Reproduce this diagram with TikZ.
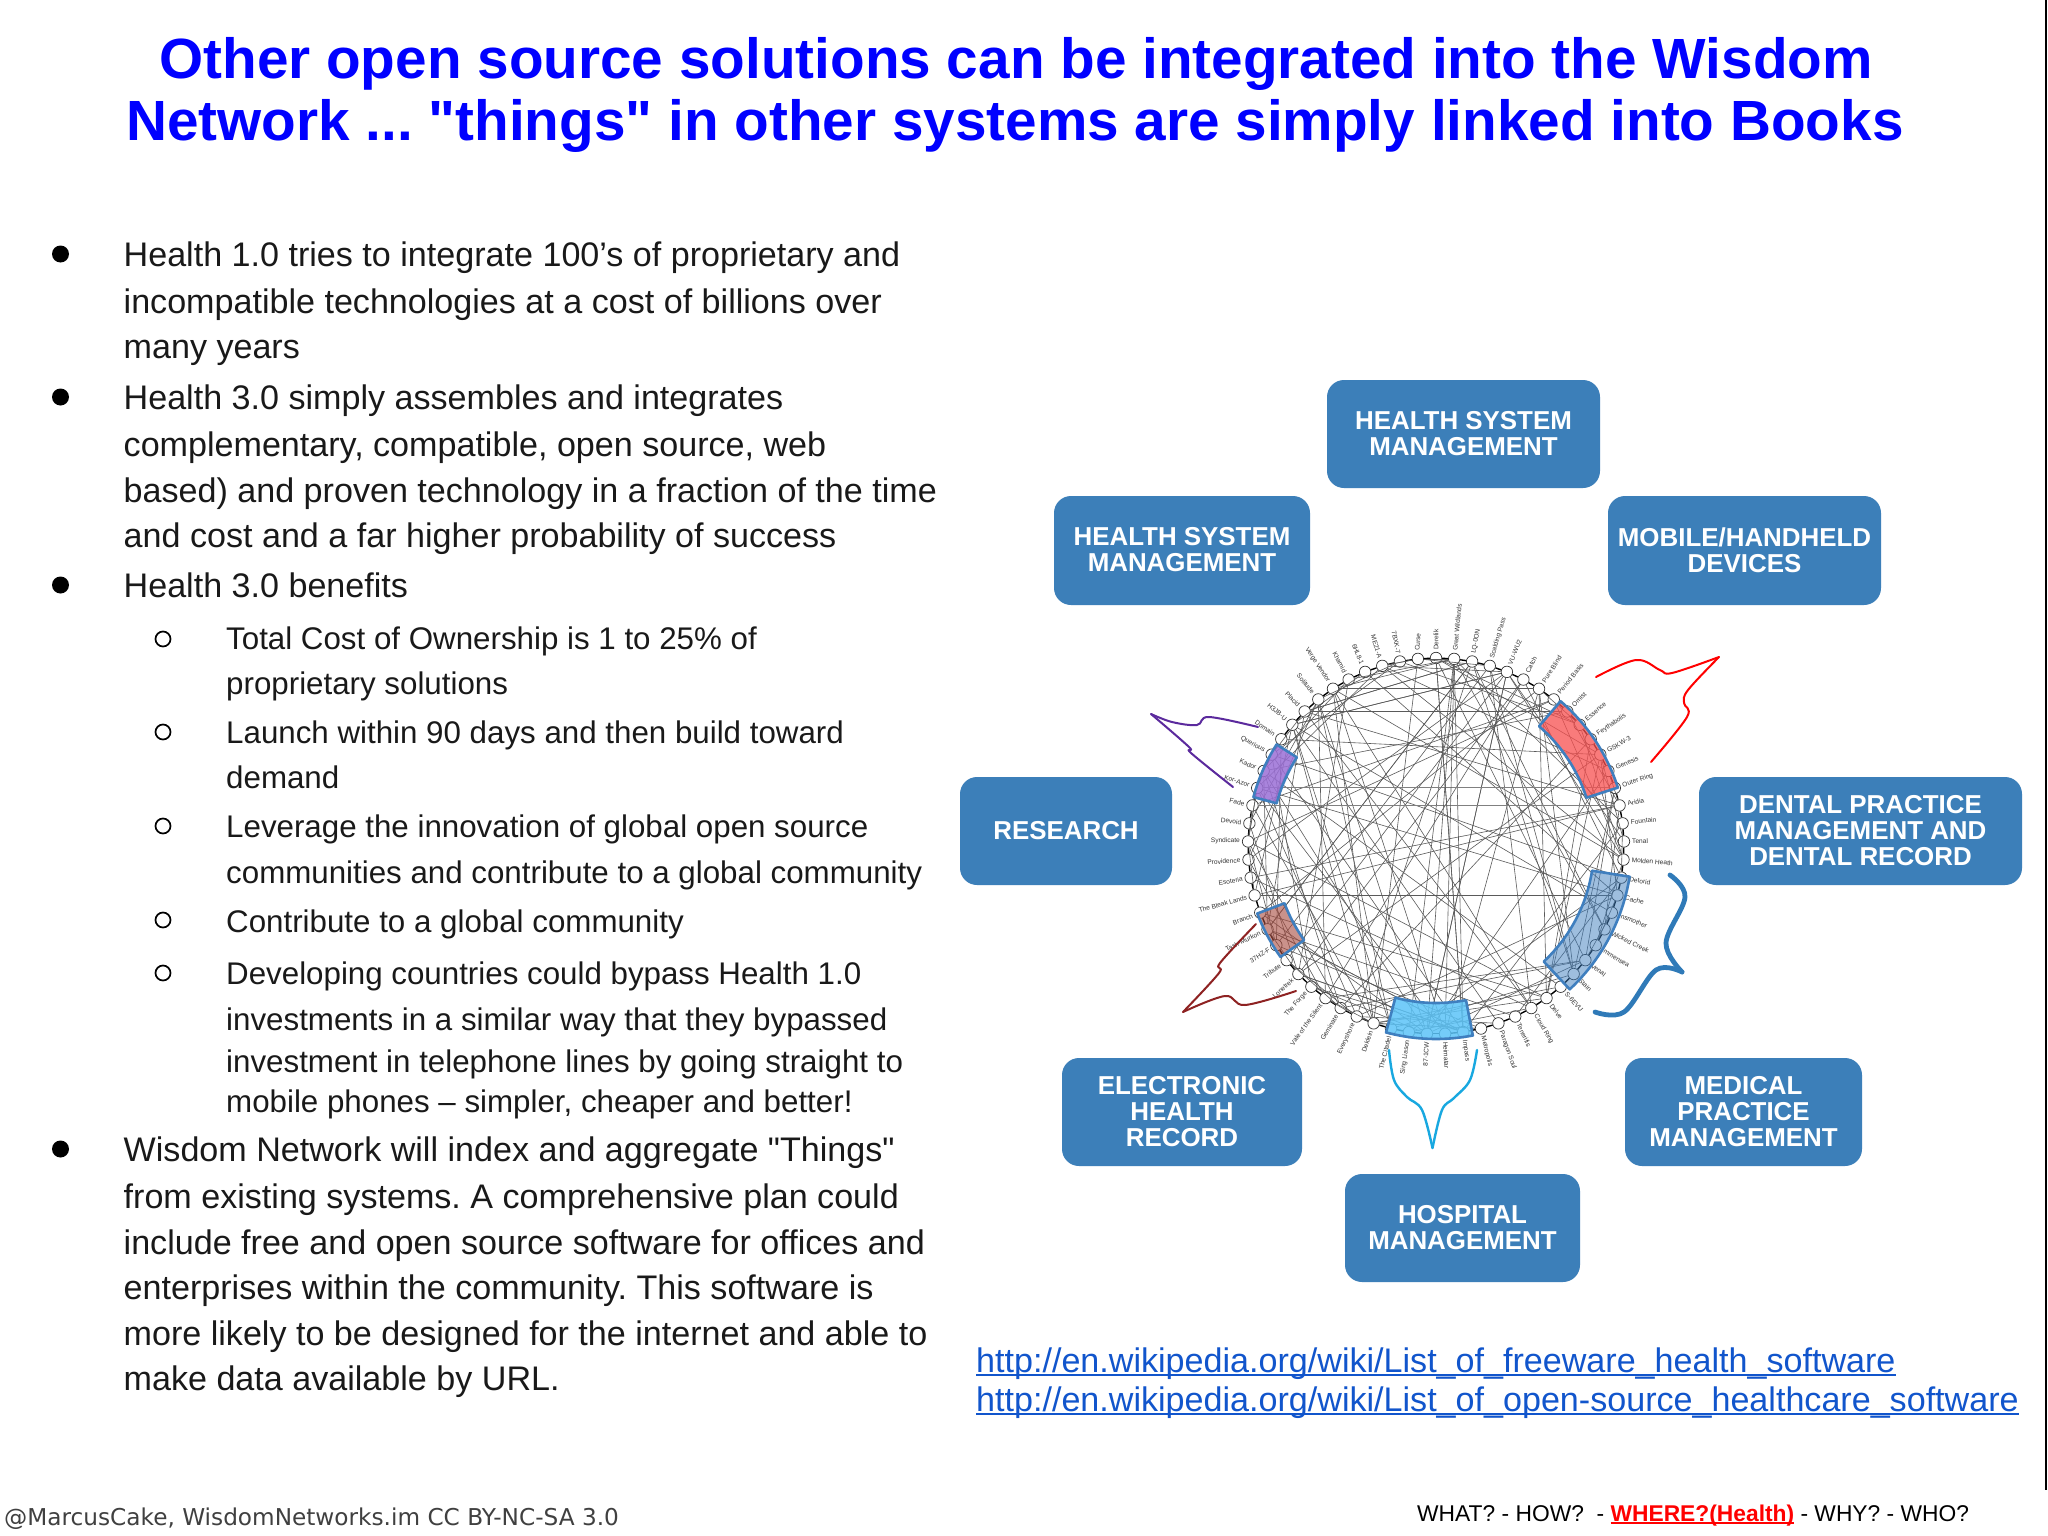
\documentclass[tikz,border=0pt]{standalone}
\usepackage{fontspec}
\setmainfont{Liberation Sans}[Ligatures=TeXOff]
\newfontfamily\djv{DejaVu Sans}
\frenchspacing
\newsavebox{\ulbox}
\newcommand{\ulx}[3]{\sbox{\ulbox}{#3}\rlap{\rule[#1]{\wd\ulbox}{#2}}\usebox{\ulbox}}
\definecolor{boxblue}{HTML}{3C7FB9}
\definecolor{secborder}{HTML}{3F7FBF}
\definecolor{linkblue}{HTML}{1155CC}
\definecolor{titleblue}{HTML}{0000FF}
\definecolor{edgegray}{HTML}{5A5A5A}
\definecolor{secpurple}{HTML}{9B6FD6}
\definecolor{secred}{HTML}{F85050}
\definecolor{secbrown}{HTML}{A84A3E}
\definecolor{seccyan}{HTML}{5CC4F8}
\definecolor{curvepurple}{HTML}{5B2A9D}
\definecolor{curvebrown}{HTML}{8E2222}
\definecolor{curvecyan}{HTML}{18A8E0}
\definecolor{curveblue}{HTML}{2F7AB8}
\tikzset{
  x=1pt,y=-1pt,
  titletxt/.style={inner sep=0pt,anchor=base,font=\fontsize{56.7}{60}\selectfont\bfseries,text=titleblue},
  bodytxt/.style={inner sep=0pt,anchor=base west,font=\fontsize{34.1}{38}\selectfont,text=black!90},
  subtxt/.style={inner sep=0pt,anchor=base west,font=\fontsize{31.3}{36}\selectfont,text=black!90},
  linktxt/.style={inner sep=0pt,anchor=base west,font=\fontsize{34.1}{40}\selectfont,text=linkblue},
  bullet/.style={circle,fill=black,inner sep=0pt,minimum size=17pt},
  subbullet/.style={circle,draw=black,line width=1.7pt,fill=white,inner sep=0pt,minimum size=15pt},
  boxlabel/.style={inner sep=0pt,align=center,text=white,font=\fontsize{25.9}{26}\selectfont\bfseries},
  hbox/.style={rounded corners=17pt,fill=boxblue},
  rnode/.style={circle,draw=black!80,fill=white,line width=0.7pt,inner sep=0pt,minimum size=11.5pt},
  rlabel/.style={inner sep=0pt,text=black!80,font=\fontsize{6.6}{8}\selectfont},
  chord/.style={draw=edgegray,line width=0.6pt},
  sector/.style={draw=secborder,line width=2.6pt,line join=round},
  hand/.style={line cap=round,line join=round,fill=none},
}
\newcommand{\hb}[6]{\path[hbox] (#2,#3) rectangle (#4,#5); \node[boxlabel] (#1) at ({(#2+#4)/2},{(#3+#5)/2-0.7}) {#6};}
\newcommand{\sect}[6]{\path[sector,fill=#1,fill opacity=#2,draw opacity=1] plot[domain=#5:#6,samples=24] ({1436+#4*cos(\x)},{846-#4*sin(\x)}) -- plot[domain=#6:#5,samples=24] ({1436+#3*cos(\x)},{846-#3*sin(\x)}) -- cycle;}
\begin{document}
\begin{tikzpicture}
\useasboundingbox (0,0) rectangle (2048,1536);
\fill[white] (0,0) rectangle (2048,1536);
\draw[black,line width=2.4pt] (2046,0) -- (2046,1490);
% title
\node[titletxt] (title1) at (1016,78.5) {Other open source solutions can be integrated into the Wisdom};
\node[titletxt] (title2) at (1015,140.5) {Network ... "things" in other systems are simply linked into Books};
% bullets
\node[bullet] (b1) at (60.5,254) {};
\node[bullet] (b2) at (60.5,397) {};
\node[bullet] (b3) at (60.5,585) {};
\node[bullet] (b4) at (60.5,1149) {};
\node[bodytxt] (l1) at (123.5,266) {Health 1.0 tries to integrate 100’s of proprietary and};
\node[bodytxt] (l2) at (123.5,313) {incompatible technologies at a cost of billions over};
\node[bodytxt] (l3) at (123.5,358) {many years};
\node[bodytxt] (l4) at (123.5,409) {Health 3.0 simply assembles and integrates};
\node[bodytxt] (l5) at (123.5,456) {complementary, compatible, open source, web};
\node[bodytxt] (l6) at (123.5,502) {based) and proven technology in a fraction of the time};
\node[bodytxt] (l7) at (123.5,547) {and cost and a far higher probability of success};
\node[bodytxt] (l8) at (123.5,597) {Health 3.0 benefits};
\node[subbullet] (s1) at (163,639) {};
\node[subbullet] (s2) at (163,732) {};
\node[subbullet] (s3) at (163,826) {};
\node[subbullet] (s4) at (163,920) {};
\node[subbullet] (s5) at (163,973) {};
\node[subtxt] (m1) at (226,649) {Total Cost of Ownership is 1 to 25\% of};
\node[subtxt] (m2) at (226,694) {proprietary solutions};
\node[subtxt] (m3) at (226,743) {Launch within 90 days and then build toward};
\node[subtxt] (m4) at (226,788) {demand};
\node[subtxt] (m5) at (226,837) {Leverage the innovation of global open source};
\node[subtxt] (m6) at (226,883) {communities and contribute to a global community};
\node[subtxt] (m7) at (226,932) {Contribute to a global community};
\node[subtxt] (m8) at (226,984) {Developing countries could bypass Health 1.0};
\node[subtxt] (m9) at (226,1030) {investments in a similar way that they bypassed};
\node[subtxt] (m10) at (226,1072) {investment in telephone lines by going straight to};
\node[subtxt] (m11) at (226,1112) {mobile phones – simpler, cheaper and better!};
\node[bodytxt] (l9) at (123.5,1161) {Wisdom Network will index and aggregate "Things"};
\node[bodytxt] (l10) at (123.5,1208) {from existing systems. A comprehensive plan could};
\node[bodytxt] (l11) at (123.5,1254) {include free and open source software for offices and};
\node[bodytxt] (l12) at (123.5,1299) {enterprises within the community. This software is};
\node[bodytxt] (l13) at (123.5,1345) {more likely to be designed for the internet and able to};
\node[bodytxt] (l14) at (123.5,1390) {make data available by URL.};
% boxes
\hb{hsm1}{1327}{380}{1600}{488}{HEALTH SYSTEM\\MANAGEMENT}
\hb{hsm2}{1054}{496}{1310}{605}{HEALTH SYSTEM\\MANAGEMENT}
\hb{mob}{1608}{496}{1881}{605}{MOBILE/HANDHELD\\DEVICES}
\hb{res}{960}{777}{1172}{885}{RESEARCH}
\hb{dent}{1699}{777}{2022}{885}{DENTAL PRACTICE\\MANAGEMENT AND\\DENTAL RECORD}
\hb{ehr}{1062}{1058}{1302}{1166}{ELECTRONIC\\HEALTH\\RECORD}
\hb{med}{1625}{1058}{1862}{1166}{MEDICAL\\PRACTICE\\MANAGEMENT}
\hb{hosp}{1345}{1174}{1580}{1282}{HOSPITAL\\MANAGEMENT}
% ring nodes and labels
\foreach \nm [count=\kk from 0] in {Derelik,Great Wildlands,LQ-0ON,Scalding Pass,VU-WU2,Catch,Pure Blind,Period Basis,Omist,Essence,Feythabolis,GSKW-3,Genesis,Outer Ring,Aridia,Fountain,Tenal,Molden Heath,Detorid,Cache,Insmother,Wicked Creek,Immensea,Venal,Stain,S-6EVU,Delve,Cloud Ring,Tenerifis,Paragon Soul,Metropolis,Impass,Heimatar,87-1CW,Sing Liason,The Citadel,Deklein,Everyshore,Geminate,Vale of the Silent,The Forge,Lonetrek,Tribute,37HZ-F,Tash-Murkon,Branch,The Bleak Lands,Esoteria,Providence,Syndicate,Devoid,Fade,Kor-Azor,Kador,Querious,Domain,H3JB-U,Placid,Solitude,Verge Vendor,Khamid,6HL8-1,ME21-A,7BXK-7,Curse}{
  \pgfmathsetmacro\ang{90-\kk*5.53846}
  \node[rnode] (n\kk) at ({1436+188*cos(\ang)},{846-188*sin(\ang)}) {};
  \ifnum\kk>32\relax
    \ifnum\kk<64\relax
      \node[rlabel,anchor=east,rotate=\ang+180] (lab\kk) at ({1436+196*cos(\ang)},{846-196*sin(\ang)}) {\nm};
    \else
      \node[rlabel,anchor=west,rotate=\ang-10] (lab\kk) at ({1436+196*cos(\ang)},{846-196*sin(\ang)}) {\nm};
    \fi
  \else
    \node[rlabel,anchor=west,rotate=\ang] (lab\kk) at ({1436+196*cos(\ang)},{846-196*sin(\ang)}) {\nm};
  \fi
}
% ring connectors
\foreach \a [remember=\a as \p (initially 64)] in {0,...,64}{
  \draw[black,line width=1.4pt] (n\p) -- (n\a);
}
% chords
\foreach \a in {0,...,64}{
  \pgfmathtruncatemacro\bb{mod(3*\a*\a+17*\a+11,65)}
  \pgfmathtruncatemacro\cc{mod(mod(7*\a,65)*\a+29*\a+23,65)}
  \pgfmathtruncatemacro\ev{mod(\a,3)}
  \pgfmathtruncatemacro\dd{mod(11*\a+31,65)}
  \ifnum\bb=\a\else\draw[chord] (n\a) -- (n\bb);\fi
  \ifnum\cc=\a\else\draw[chord] (n\a) -- (n\cc);\fi
  \ifnum\ev=0\ifnum\dd=\a\else\draw[chord] (n\a) -- (n\dd);\fi\fi
}
\draw[chord,line width=1.2pt,draw=gray] (n51) -- (n14);
\draw[chord,line width=1pt,draw=gray] (n52) -- (n13);
\draw[chord] (n1) -- (n32);
\draw[chord] (n1) -- (n33);
\draw[chord] (n0) -- (n31);
% highlighted sectors
\sect{secred}{0.75}{158}{191}{17.8}{49.3}
\sect{secpurple}{0.85}{165}{189}{147.5}{165}
\sect{secbrown}{0.6}{162}{191}{200.7}{215.5}
\sect{seccyan}{0.85}{157}{193}{255}{281}
\sect{secborder}{0.5}{158}{196}{313}{351}
% hand-drawn braces
\draw[hand,red,line width=2pt] plot[smooth,tension=0.6] coordinates {(1596,677) (1636,660) (1660,670) (1672,673) (1719,657)};
\draw[hand,red,line width=2pt] plot[smooth,tension=0.6] coordinates {(1719,657) (1688,690) (1684,703) (1687,717) (1651,762)};
\draw[hand,curvepurple,line width=2pt] plot[smooth,tension=0.6] coordinates {(1258,727) (1209,717) (1197,725) (1172,722) (1151,714)};
\draw[hand,curvepurple,line width=2pt] plot[smooth,tension=0.6] coordinates {(1151,714) (1189,747) (1191,753) (1233,787)};
\draw[hand,curvebrown,line width=2pt] plot[smooth,tension=0.6] coordinates {(1183,1012) (1219,973) (1220,963) (1256,924)};
\draw[hand,curvebrown,line width=2pt] plot[smooth,tension=0.6] coordinates {(1183,1012) (1225,996) (1245,1005) (1296,991)};
\draw[hand,curvecyan,line width=2.4pt] plot[smooth,tension=0.6] coordinates {(1389,1050) (1394,1080) (1407,1097) (1422,1110) (1432.5,1148)};
\draw[hand,curvecyan,line width=2.4pt] plot[smooth,tension=0.6] coordinates {(1477,1050) (1470,1080) (1454,1098) (1442,1110) (1432.5,1148)};
\draw[hand,curveblue,line width=4.8pt] plot[smooth,tension=0.6] coordinates {(1670,875) (1685,897) (1666,943) (1682,972)};
\draw[hand,curveblue,line width=4.8pt] plot[smooth,tension=0.6] coordinates {(1682,972) (1656,970) (1624,1012) (1595,1012)};
% links
\node[linktxt] (u1) at (976,1372) {\ulx{-4pt}{2pt}{http://en.wikipedia.org/wiki/List\_of\_freeware\_health\_software}};
\node[linktxt] (u2) at (976,1411) {\ulx{-4pt}{2pt}{http://en.wikipedia.org/wiki/List\_of\_open-source\_healthcare\_software}};
% footer
\node[inner sep=0pt,anchor=base west,font=\djv\fontsize{23.2}{28}\selectfont,text=black!75] (foot) at (4,1525) {@MarcusCake, WisdomNetworks.im CC BY-NC-SA 3.0};
\node[inner sep=0pt,anchor=base west,font=\fontsize{22.8}{28}\selectfont,text=black] (nav) at (1417,1521) {WHAT? - HOW?\ \ - {\color{red}\bfseries\ulx{-3pt}{2pt}{WHERE?(Health)}} - WHY? - WHO?};
\end{tikzpicture}
\end{document}
